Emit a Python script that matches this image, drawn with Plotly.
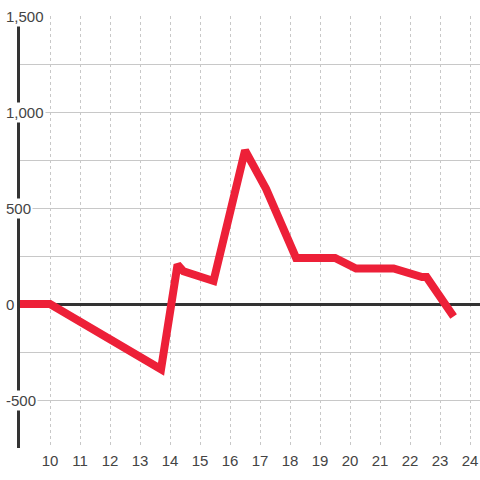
import plotly.graph_objects as go

# series
x_vals = [9, 10, 13.7, 14.25, 14.45, 15.45, 16.5, 17.2, 18.2, 19.5, 20.2, 21.45, 22.4, 22.55, 23.45]
y_vals = [0, 0, -340, 205, 170, 120, 800, 600, 240, 240, 185, 185, 140, 140, -65]

x_ticks = list(range(10, 25))
y_labels = [1500, 1000, 500, 0, -500]

fig = go.Figure()

fig.add_trace(
    go.Scatter(
        x=x_vals,
        y=y_vals,
        mode="lines",
        line=dict(color="#ed2038", width=8),
        showlegend=False,
        hoverinfo="skip",
    )
)

# y labels sit on top of the axis line with a white background
for v in y_labels:
    fig.add_annotation(
        x=0, xref="paper", y=v, yref="y",
        text=f"{v:,}", showarrow=False,
        xanchor="left", xshift=-16,
        bgcolor="white",
        font=dict(family="Liberation Sans, Arial, sans-serif", size=15, color="#444"),
    )

fig.update_xaxes(
    range=[9, 24.33],
    tickvals=x_ticks,
    showgrid=True,
    gridcolor="#c8c8c8",
    griddash="dot",
    gridwidth=1,
    zeroline=False,
    showline=False,
    ticks="",
    ticklabelstandoff=2,
    automargin=False,
    tickfont=dict(family="Liberation Sans, Arial, sans-serif", size=15, color="#444"),
)
fig.update_yaxes(
    range=[-750, 1500],
    dtick=250,
    showgrid=True,
    gridcolor="#c8c8c8",
    gridwidth=1,
    zeroline=True,
    zerolinecolor="#333",
    zerolinewidth=3,
    showline=True,
    linecolor="#333",
    linewidth=3,
    showticklabels=False,
    ticks="",
    automargin=False,
)

fig.update_layout(
    width=480,
    height=480,
    margin=dict(l=20, r=0, t=16, b=32),
    plot_bgcolor="white",
    paper_bgcolor="white",
)

# the page's default body margin would push the chart off the window
fig.write_html(
    "out.html",
    config={"displayModeBar": False},
    post_script="document.body.style.margin='0';",
)
